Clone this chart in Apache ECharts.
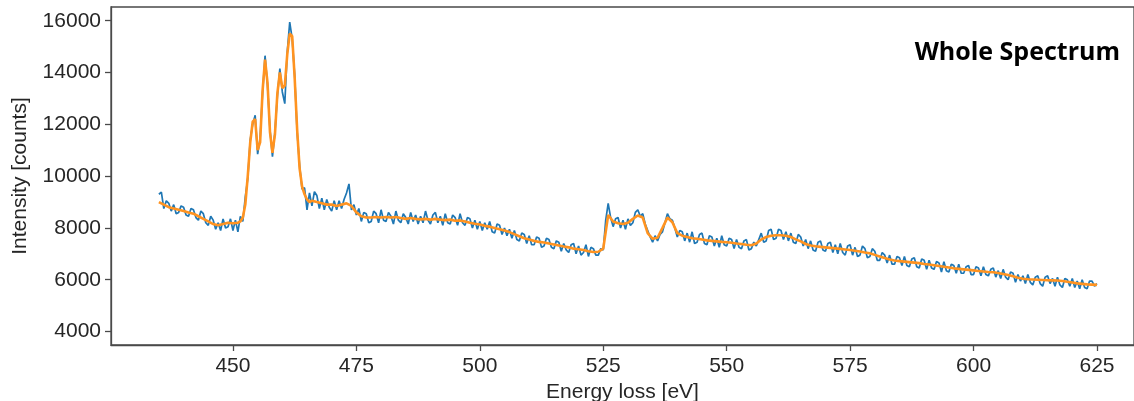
<!DOCTYPE html>
<html>
<head>
<meta charset="utf-8">
<script src="https://cdn.jsdelivr.net/npm/echarts@6/dist/echarts.min.js"></script>
<style>
  html, body { margin: 0; padding: 0; background: #ffffff; }
  #chart { width: 1134px; height: 401px; }
</style>
</head>
<body>
<div id="chart"></div>
<script>
// Raw spectrum: sampled every 0.5 eV starting at 435 eV
const rawStart = 435;
const rawStep = 0.5;
const rawCounts = [
  9300, 9380, 8750, 9050, 8950, 8650, 8900, 8550, 8600, 8850, 8800, 8500, 8450, 8750, 8700, 8400,
  8300, 8650, 8550, 8200, 8100, 8450, 8300, 7950, 8200, 7900, 8350, 8000, 8050, 8350, 7900, 8300,
  7850, 8450, 8250, 9200, 9900, 11400, 12000, 12350, 10850, 11450, 13200, 14650, 13500, 11800,
  10750, 11700, 13100, 14150, 13250, 12800, 14800, 15950, 15300, 13900, 11700, 10400, 9500, 9550,
  8700, 9350, 8850, 9400,
  9250, 8750, 9150, 8700, 9100, 8800, 8650, 9050, 8700, 9050, 8750, 9100, 9350, 9700, 8700, 8900,
  8500, 8750, 8250, 8600, 8550, 8200, 8250, 8650, 8550, 8200, 8700, 8300, 8250, 8600, 8450, 8150,
  8650, 8300, 8200, 8550, 8400, 8150, 8600, 8250, 8500, 8150, 8450, 8200, 8650, 8300, 8150, 8500,
  8600, 8200, 8450, 8100, 8550, 8200, 8150, 8500, 8400, 8100, 8550, 8200, 8100, 8400, 8350, 8000,
  8300, 7950, 8250, 7900, 8200, 7950, 8250, 7850, 7800, 8150, 8100, 7750, 8000, 7700, 7950, 7600,
  7900, 7550, 7500, 7800, 7750, 7400, 7700, 7350, 7350, 7650, 7600, 7250, 7300, 7600, 7550, 7250,
  7200, 7500, 7450, 7100, 7400, 7150, 7050, 7350, 7400, 7000, 7300, 6950, 7050, 7350, 6900, 7250,
  7200, 6950, 6950, 7200, 7150, 8300, 8950, 8400, 8050, 8350, 8400, 8000, 8300, 7950, 8350, 8100,
  8200, 8600, 8700, 8450, 8550, 8150, 7900, 7650, 7450, 7700, 7500, 7750, 7850, 8200, 8550, 8350,
  8300, 8000, 7650, 7900, 7850, 7500, 7800, 7450, 7850, 7400, 7450, 7750, 7800, 7400, 7350, 7700,
  7650, 7300, 7600, 7250, 7700, 7350, 7300, 7600, 7550, 7200, 7550, 7250, 7200, 7500, 7550, 7150,
  7200, 7450, 7300, 7550, 7800, 7450, 7500, 7900, 7950, 7550, 7600, 7950, 7900, 7550, 7850, 7500,
  7800, 7450, 7400, 7750, 7650, 7300, 7550, 7200, 7500, 7150, 7100, 7450, 7500, 7150, 7100, 7400,
  7450, 7050, 7350, 7000, 7400, 7050, 6950, 7300, 7350, 6950, 7250, 6900, 6950, 7300, 7200, 6850,
  6900, 7200, 7100, 6750, 6750, 7050, 6950, 6650, 6950, 6600, 6600, 6900, 6850, 6550, 6900, 6550,
  6500, 6800, 6850, 6500, 6450, 6800, 6750, 6400, 6750, 6450, 6400, 6700, 6650, 6300, 6700, 6350,
  6300, 6600, 6550, 6250, 6600, 6250, 6250, 6500, 6550, 6200, 6200, 6500, 6450, 6150, 6500, 6200,
  6150, 6400, 6450, 6100, 6350, 6050, 6400, 6100, 6000, 6300, 6250, 5900, 6200, 5950, 6150, 5850,
  6200, 5900, 5800, 6100, 6150, 5850, 5750, 6100, 6150, 5850, 6050, 5750, 6100, 5800, 5700, 6050,
  6000, 5750, 6050, 5700, 5950, 5650, 6000, 5700, 5650, 5950, 5950, 5750, 5850
];

// Smoothed spectrum (finer sampling around the L-edge peaks)
const smoothEnergy = [
  435, 436, 437, 438, 439, 440, 441, 442, 443, 444, 445, 446, 447, 448, 449, 450,
  451, 451.5, 452, 452.5, 453, 453.5, 454, 454.5, 455, 455.5, 456, 456.5, 457, 457.5,
  458, 458.5, 459, 459.5, 460, 460.5, 461, 461.5, 462, 462.5, 463, 463.5, 464, 464.5,
  465, 465.5, 466,
  467, 468, 469, 470, 471, 472, 473, 474, 475, 476, 477, 478, 479, 480, 481, 482, 483,
  484, 485, 486, 487, 488, 489, 490, 491, 492, 493, 494, 495, 496, 497, 498, 499, 500,
  501, 502, 503, 504, 505, 506, 507, 508, 509, 510, 511, 512, 513, 514, 515, 516, 517,
  518, 519, 520, 521, 522, 523, 524, 525, 526, 527, 528, 529, 530, 531, 532, 533, 534,
  535, 536, 537, 538, 539, 540, 541, 542, 543, 544, 545, 546, 547, 548, 549, 550, 551,
  552, 553, 554, 555, 556, 557, 558, 559, 560, 561, 562, 563, 564, 565, 566, 567, 568,
  569, 570, 571, 572, 573, 574, 575, 576, 577, 578, 579, 580, 581, 582, 583, 584, 585,
  586, 587, 588, 589, 590, 591, 592, 593, 594, 595, 596, 597, 598, 599, 600, 601, 602,
  603, 604, 605, 606, 607, 608, 609, 610, 611, 612, 613, 614, 615, 616, 617, 618, 619,
  620, 621, 622, 623, 624, 625
];
const smoothCounts = [
  9000, 8900, 8800, 8750, 8700, 8650, 8600, 8550, 8450, 8350, 8250, 8150, 8100, 8150, 8200, 8180,
  8200, 8250, 8400, 8900, 10000, 11300, 12100, 12200, 11000, 11300, 13300, 14500, 13600, 11700,
  10900, 11600, 13200, 14000, 13400, 13500, 14700, 15500, 15400, 13800, 11800, 10300, 9600, 9300,
  9100, 9000, 9050,
  9000, 8950, 8900, 8900, 8850, 8900, 8950, 8850, 8600, 8450, 8400, 8400, 8420, 8400, 8420, 8400, 8420,
  8380, 8350, 8380, 8350, 8330, 8350, 8320, 8350, 8320, 8300, 8320, 8280, 8290, 8250, 8200, 8160, 8130,
  8080, 8050, 8000, 7950, 7900, 7840, 7760, 7680, 7600, 7550, 7500, 7460, 7440, 7400, 7360, 7320, 7280,
  7250, 7200, 7180, 7150, 7100, 7070, 7080, 7200, 8500, 8250, 8180, 8150, 8200, 8350, 8480, 8400, 7800,
  7580, 7620, 8000, 8400, 8220, 7800, 7700, 7650, 7600, 7580, 7550, 7520, 7500, 7480, 7460, 7450, 7430,
  7400, 7380, 7350, 7330, 7400, 7550, 7650, 7700, 7720, 7720, 7700, 7650, 7560, 7480, 7380, 7320, 7290,
  7270, 7250, 7230, 7210, 7190, 7170, 7150, 7120, 7090, 7050, 7020, 6960, 6900, 6840, 6780, 6740, 6720,
  6700, 6680, 6660, 6640, 6610, 6590, 6560, 6530, 6500, 6470, 6440, 6420, 6400, 6380, 6360, 6340, 6320,
  6300, 6290, 6260, 6220, 6180, 6130, 6080, 6040, 6020, 6010, 6000, 5990, 5980, 5975, 5970, 5950, 5920,
  5890, 5860, 5840, 5820, 5810, 5800
];

const xTicks = [450, 475, 500, 525, 550, 575, 600, 625];
const yTicks = [4000, 6000, 8000, 10000, 12000, 14000, 16000];

const rawData = rawCounts.map((v, i) => [rawStart + i * rawStep, v]);
const smoothData = smoothEnergy.map((e, i) => [e, smoothCounts[i]]);

const axisFont = { fontFamily: 'Liberation Sans, Arial, sans-serif', fontSize: 21, color: '#262626' };
const spine = { color: '#4a4a4a', width: 1.3 };

const chart = echarts.init(document.getElementById('chart'), null, { renderer: 'canvas' });
chart.setOption({
  animation: false,
  backgroundColor: '#ffffff',
  grid: {
    left: 111, top: 7, right: 0, bottom: 56,
    outerBoundsMode: 'none',
    containLabel: false,
    show: true, borderColor: '#4a4a4a', borderWidth: 1.3, backgroundColor: 'transparent'
  },
  xAxis: {
    type: 'value',
    min: 425.3, max: 632.5,
    name: 'Energy loss [eV]',
    nameLocation: 'middle',
    nameGap: 36,
    nameTextStyle: axisFont,
    axisLine: { show: true, onZero: false, lineStyle: spine },
    axisTick: { show: true, length: 6, customValues: xTicks, lineStyle: spine },
    axisLabel: Object.assign({ customValues: xTicks, margin: 11, formatter: v => String(v) }, axisFont),
    splitLine: { show: false }
  },
  yAxis: {
    type: 'value',
    min: 3480, max: 16530,
    name: 'Intensity [counts]',
    nameLocation: 'middle',
    nameGap: 80,
    nameRotate: 90,
    nameTextStyle: axisFont,
    axisLine: { show: true, onZero: false, lineStyle: spine },
    axisTick: { show: true, length: 6, customValues: yTicks, lineStyle: spine },
    axisLabel: Object.assign({ customValues: yTicks, margin: 10, formatter: v => String(v) }, axisFont),
    splitLine: { show: false }
  },
  graphic: [{
    type: 'text',
    right: 14, top: 40,
    style: {
      text: 'Whole Spectrum',
      fontFamily: '"Open Sans", sans-serif',
      fontWeight: 'bold',
      fontSize: 25,
      fill: '#000000'
    }
  }],
  series: [
    {
      name: 'raw', type: 'line', data: rawData,
      showSymbol: false, symbol: 'none',
      lineStyle: { color: '#1f77b4', width: 1.7 }, z: 2
    },
    {
      name: 'smoothed', type: 'line', data: smoothData,
      showSymbol: false, symbol: 'none',
      lineStyle: { color: '#ff9320', width: 2.6 }, z: 3
    }
  ]
});
</script>
</body>
</html>
